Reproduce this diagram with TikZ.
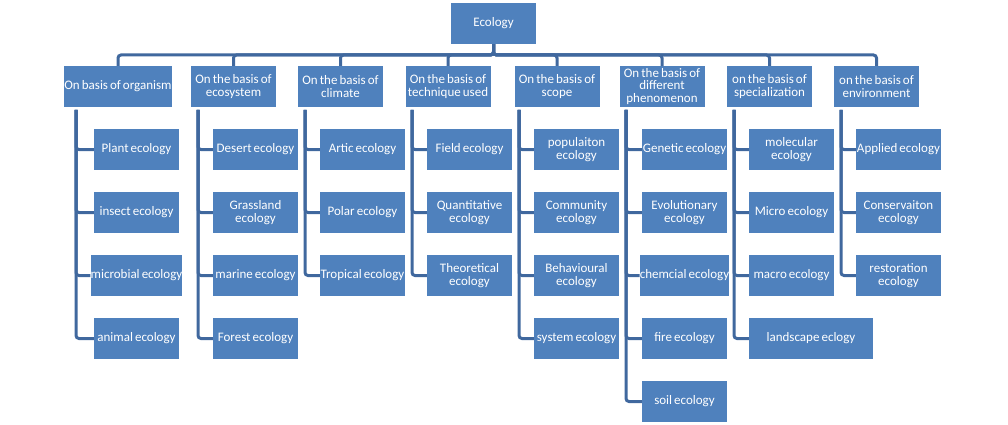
\documentclass[tikz,border=0pt]{standalone}
\usepackage{fontspec}
\setmainfont{Carlito}[WordSpace=0.7]
\definecolor{boxblue}{RGB}{79,129,189}
\definecolor{lineblue}{RGB}{64,104,158}
\begin{document}
\begin{tikzpicture}[x=1pt,y=-1pt,
  box/.style={fill=boxblue, text=white, minimum width=85pt, minimum height=41pt,
    inner sep=0pt, align=center, font=\fontsize{13}{12.7}\selectfont},
  conn/.style={draw=lineblue, line width=3pt, rounded corners=3pt}]
\useasboundingbox (0,0) rectangle (1008,425);

% root
\node[box] (root) at (493.5,23.5) {Ecology};
\coordinate (bus) at (493.5,55);

% level 1
\node[box, minimum width=102pt] (c1) at (118,86.5) {On basis of organism};
\node[box] (c2) at (233.5,86.5) {On the basis of\\ecosystem};
\node[box] (c3) at (340.5,86.5) {On the basis of\\climate};
\node[box] (c4) at (448,86.5) {On the basis of\\technique used};
\node[box] (c5) at (557,86.5) {On the basis of\\scope};
\node[box] (c6) at (662,86.5) {On the basis of\\different\\phenomenon};
\node[box] (c7) at (769.5,86.5) {on the basis of\\specialization};
\node[box] (c8) at (876.5,86.5) {on the basis of\\environment};

% trunks
\coordinate (t1) at (76,110);
\coordinate (t2) at (198,110);
\coordinate (t3) at (305,110);
\coordinate (t4) at (412,110);
\coordinate (t5) at (519,110);
\coordinate (t6) at (626,110);
\coordinate (t7) at (734,110);
\coordinate (t8) at (841,110);

% level 2, column 1
\node[box] (c1a) at (136.5,149.5) {Plant ecology};
\node[box] (c1b) at (136.5,212.5) {insect ecology};
\node[box] (c1c) at (136.5,275.5) {microbial ecology};
\node[box] (c1d) at (136.5,338.5) {animal ecology};
% column 2
\node[box] (c2a) at (255.5,149.5) {Desert ecology};
\node[box] (c2b) at (255.5,212.5) {Grassland\\ecology};
\node[box] (c2c) at (255.5,275.5) {marine ecology};
\node[box] (c2d) at (255.5,338.5) {Forest ecology};
% column 3
\node[box] (c3a) at (362.5,149.5) {Artic ecology};
\node[box] (c3b) at (362.5,212.5) {Polar ecology};
\node[box] (c3c) at (362.5,275.5) {Tropical ecology};
% column 4
\node[box] (c4a) at (469.5,149.5) {Field ecology};
\node[box] (c4b) at (469.5,212.5) {Quantitative\\ecology};
\node[box] (c4c) at (469.5,275.5) {Theoretical\\ecology};
% column 5
\node[box] (c5a) at (576.5,149.5) {populaiton\\ecology};
\node[box] (c5b) at (576.5,212.5) {Community\\ecology};
\node[box] (c5c) at (576.5,275.5) {Behavioural\\ecology};
\node[box] (c5d) at (576.5,338.5) {system ecology};
% column 6
\node[box] (c6a) at (684.5,149.5) {Genetic ecology};
\node[box] (c6b) at (684.5,212.5) {Evolutionary\\ecology};
\node[box] (c6c) at (684.5,275.5) {chemcial ecology};
\node[box] (c6d) at (684.5,338.5) {fire ecology};
\node[box] (c6e) at (684.5,401.5) {soil ecology};
% column 7
\node[box] (c7a) at (791.5,149.5) {molecular\\ecology};
\node[box] (c7b) at (791.5,212.5) {Micro ecology};
\node[box] (c7c) at (791.5,275.5) {macro ecology};
\node[box, minimum width=124pt] (c7d) at (811,338.5) {landscape eclogy};
% column 8
\node[box] (c8a) at (898.5,149.5) {Applied ecology};
\node[box] (c8b) at (898.5,212.5) {Conservaiton\\ecology};
\node[box] (c8c) at (898.5,275.5) {restoration\\ecology};

% top bus
\foreach \c in {c1,c2,c3,c4,c5,c6,c7,c8}
  \draw[conn] (root.south) -- (bus) -| (\c.north);

% trunks to children
\foreach \p/\kids in {1/{a,b,c,d},2/{a,b,c,d},3/{a,b,c},4/{a,b,c},5/{a,b,c,d},6/{a,b,c,d,e},7/{a,b,c,d},8/{a,b,c}}
  \foreach \k in \kids
    \draw[conn] (t\p) |- (c\p\k.west);
\end{tikzpicture}
\end{document}
